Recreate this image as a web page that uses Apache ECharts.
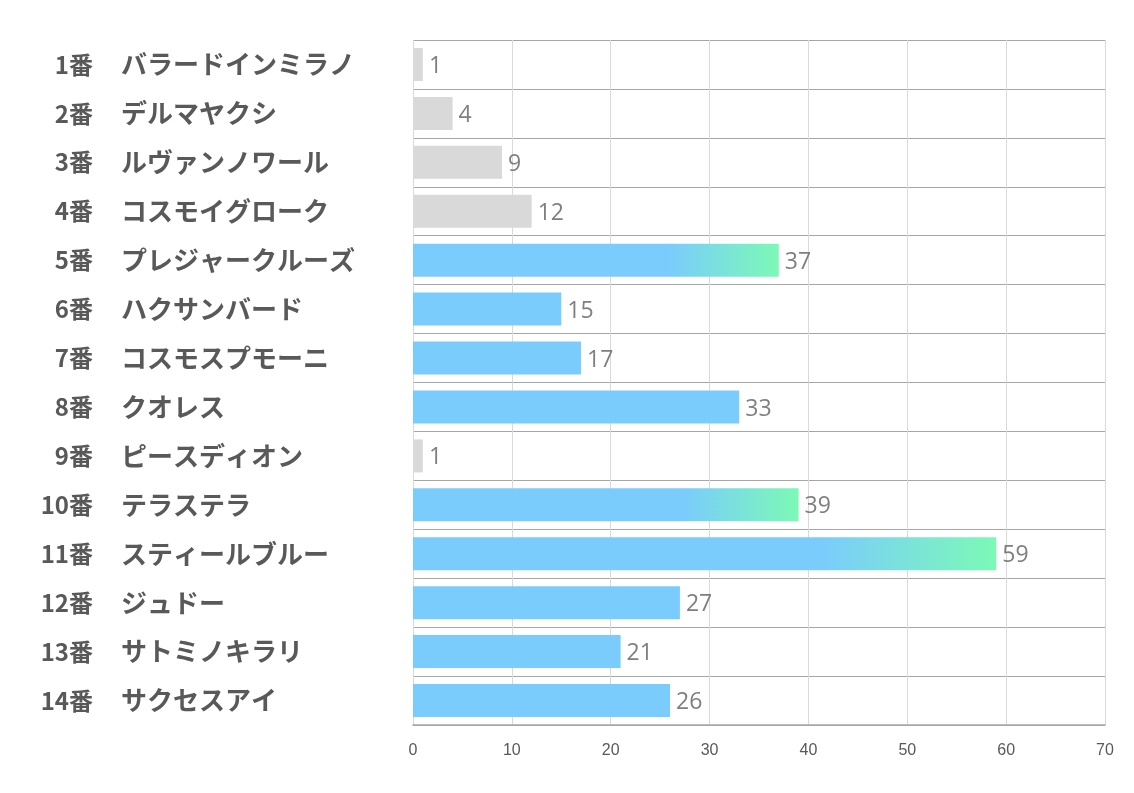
<!DOCTYPE html>
<html><head><meta charset="utf-8">
<script src="https://cdn.jsdelivr.net/npm/echarts@6/dist/echarts.min.js"></script>
<style>html,body{margin:0;padding:0;background:#fff}#c{width:1134px;height:793px}</style>
</head><body><div id="c"></div>
<script>
const numbers = ['1番','2番','3番','4番','5番','6番','7番','8番','9番','10番','11番','12番','13番','14番'];
const names = ['バラードインミラノ','デルマヤクシ','ルヴァンノワール','コスモイグローク','プレジャークルーズ','ハクサンバード','コスモスプモーニ','クオレス','ピースディオン','テラステラ','スティールブルー','ジュドー','サトミノキラリ','サクセスアイ'];
const values = [1,4,9,12,37,15,17,33,1,39,59,27,21,26];
const xTicks = [0,10,20,30,40,50,60,70];

const BLUE = '#7accfd', GREEN = '#7cf9b6', GRAY = '#d9d9d9';
function barColor(v){
  if (v <= 12) return GRAY;
  if (v < 35) return BLUE;
  return {type:'linear',x:0,y:0,x2:1,y2:0,colorStops:[{offset:0,color:BLUE},{offset:0.7,color:BLUE},{offset:1,color:GREEN}]};
}
const labelFont = 'Noto Sans CJK JP';
const chart = echarts.init(document.getElementById('c'));
chart.setOption({
  animation:false,
  grid:{left:413,right:29,top:40,bottom:68,containLabel:false},
  xAxis:{type:'value',min:xTicks[0],max:xTicks[xTicks.length-1],interval:10,
    axisLine:{show:true,lineStyle:{color:'#a6a6a6',width:1.5}},
    axisTick:{show:false},
    axisLabel:{color:'#595959',fontSize:16,margin:18,fontFamily:'Liberation Sans Narrow, Liberation Sans, sans-serif'},
    splitLine:{show:true,lineStyle:{color:'#d9d9d9',width:1}}},
  yAxis:[
    {type:'category',data:numbers,inverse:true,
      axisLine:{show:false},axisTick:{show:false},
      splitLine:{show:true,lineStyle:{color:'#a6a6a6',width:1}},
      axisLabel:{align:'right',margin:413-93,fontSize:24,fontWeight:'bold',color:'#595959',fontFamily:labelFont}},
    {type:'category',data:names,inverse:true,position:'left',offset:0,
      axisLine:{show:false},axisTick:{show:false},splitLine:{show:false},
      axisLabel:{align:'left',margin:413-121,fontSize:26,fontWeight:'bold',color:'#595959',fontFamily:labelFont}}
  ],
  series:[{type:'bar',barWidth:33,yAxisIndex:0,
    data:values.map(v=>({value:v,itemStyle:{color:barColor(v)}})),
    label:{show:true,position:'right',distance:6,offset:[0,2],color:'#7f7f7f',fontSize:23,fontFamily:'Open Sans, sans-serif'}}]
});
</script></body></html>
